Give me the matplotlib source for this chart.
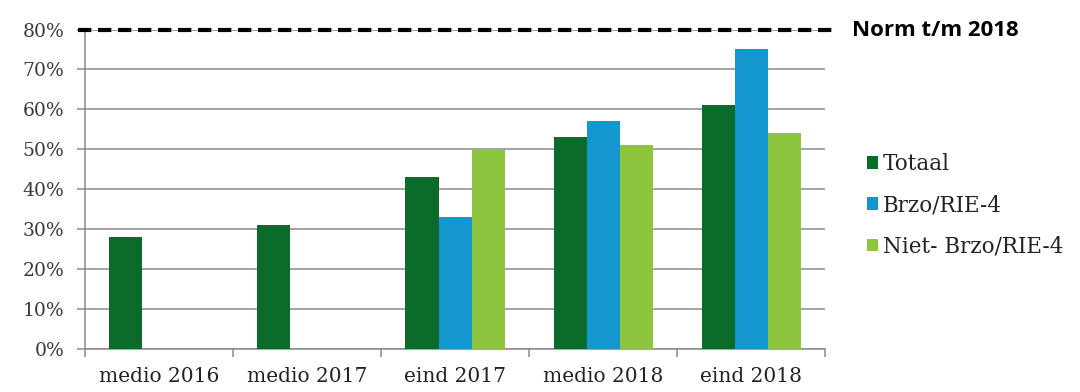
import numpy as np
import matplotlib.pyplot as plt
from matplotlib.font_manager import FontProperties

# data (percent)
categories = ['medio 2016', 'medio 2017', 'eind 2017', 'medio 2018', 'eind 2018']
totaal = [28, 31, 43, 53, 61]
brzo = [np.nan, np.nan, 33, 57, 75]
niet_brzo = [np.nan, np.nan, 50, 51, 54]
series_names = ['Totaal', 'Brzo/RIE-4', 'Niet- Brzo/RIE-4']
norm = 80
norm_label = 'Norm t/m 2018'
y_ticks = [0, 10, 20, 30, 40, 50, 60, 70, 80]

colors = ['#0b6b2a', '#1496cf', '#8dc53e']
serif = ['DejaVu Serif']
plt.rcParams['font.family'] = serif

fig = plt.figure(figsize=(10.8, 3.92), dpi=100)
ax = fig.add_axes([0.0787, 0.1097, 0.6852, 0.815])

x = np.arange(len(categories))
w = 0.223
for i, (vals, name) in enumerate(zip([totaal, brzo, niet_brzo], series_names)):
    ax.bar(x + (i - 1) * w, vals, width=w, color=colors[i], label=name, zorder=3)

ax.set_xlim(-0.5, len(categories) - 0.5)
ax.set_ylim(0, 80)
ax.set_yticks(y_ticks)
ax.set_yticklabels(['%d%%' % t for t in y_ticks], fontsize=13.5, color='#3a3a3a')
ax.yaxis.grid(True, color='#8a8a8a', linewidth=1.1, zorder=0)
ax.tick_params(axis='y', length=6, color='#8a8a8a', width=1.1, pad=9)

# category boundaries carry the tick marks, labels sit in the middle
ax.set_xticks(np.arange(len(categories) + 1) - 0.5)
ax.set_xticklabels([])
ax.set_xticks(x, minor=True)
ax.set_xticklabels(categories, minor=True, fontsize=14.5, color='#222222')
ax.tick_params(axis='x', which='major', length=6, color='#8a8a8a', width=1.1)
ax.tick_params(axis='x', which='minor', length=0, pad=13)

for s in ['top', 'right']:
    ax.spines[s].set_visible(False)
for s in ['left', 'bottom']:
    ax.spines[s].set_color('#8a8a8a')
    ax.spines[s].set_linewidth(1.1)

# norm line sticking out past the plot area
ax.axhline(norm, xmin=-0.01, xmax=1.014, color='black', linestyle=(0, (3.2, 1.6)),
           linewidth=3, clip_on=False, zorder=5)
fig.text(0.789, 0.922, norm_label, fontsize=16, fontweight='bold',
         family='Open Sans', va='center', ha='left')

leg = ax.legend(loc='center left', bbox_to_anchor=(1.03, 0.45), frameon=False,
                prop=FontProperties(family='DejaVu Serif', size=15.5), handlelength=0.55,
                handleheight=0.55, handletextpad=0.2, labelspacing=0.9)
for t in leg.get_texts():
    t.set_color('#222222')

plt.savefig('out.png', dpi=100)
